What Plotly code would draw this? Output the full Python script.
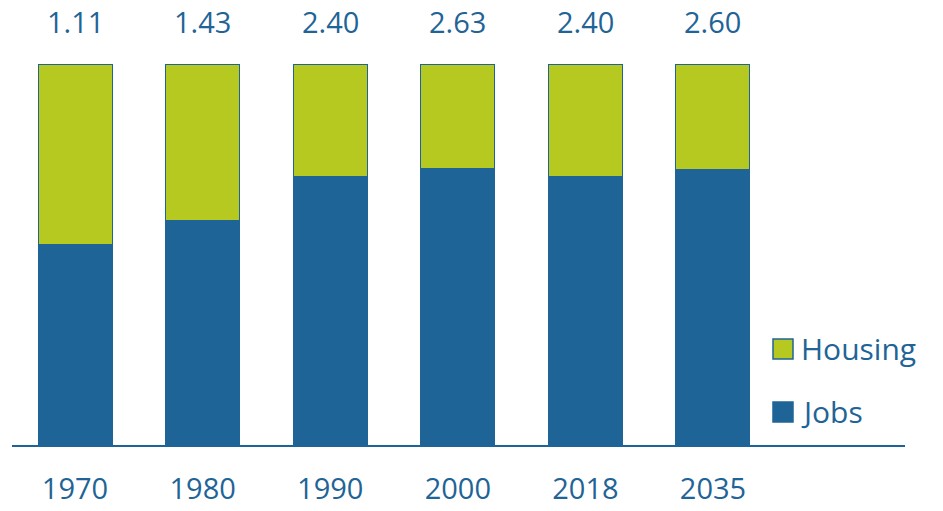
import plotly.graph_objects as go

categories = ["1970", "1980", "1990", "2000", "2018", "2035"]
ratio_labels = ["1.11", "1.43", "2.40", "2.63", "2.40", "2.60"]
jobs_share = [52.6, 58.8, 70.6, 72.5, 70.6, 72.2]
housing_share = [47.4, 41.2, 29.4, 27.5, 29.4, 27.8]

BLUE = "#1f6496"
GREEN = "#b5c921"
FONT = "Open Sans"

W, H = 943, 511
PX0, PX1, PY0, PY1 = 12, 905, 64, 445


def px(x):
    return (x - PX0) / (PX1 - PX0)


def py(y):
    return (PY1 - y) / (PY1 - PY0)


fig = go.Figure()
fig.add_trace(go.Bar(x=categories, y=jobs_share, name="Jobs", width=0.58,
                     marker=dict(color=BLUE, line=dict(color=BLUE, width=1))))
fig.add_trace(go.Bar(x=categories, y=housing_share, name="Housing", width=0.58,
                     marker=dict(color=GREEN, line=dict(color=BLUE, width=1))))

for i, t in enumerate(ratio_labels):
    fig.add_annotation(x=i, y=1, xref="x", yref="paper", text=t, showarrow=False,
                       yanchor="middle", yshift=43, borderpad=0,
                       font=dict(size=29, color=BLUE, family=FONT))

# legend drawn manually
legend_items = [("Housing", GREEN, 349), ("Jobs", BLUE, 412)]
for name, col, yc in legend_items:
    fig.add_shape(type="rect", xref="paper", yref="paper",
                  x0=px(773), x1=px(793),
                  y0=py(yc + 10), y1=py(yc - 10),
                  fillcolor=col, line=dict(color=BLUE, width=1.5))
    fig.add_annotation(x=px(799), y=py(yc - 1), xref="paper", yref="paper",
                       text=name, showarrow=False, xanchor="left", yanchor="middle",
                       font=dict(size=30, color=BLUE, family=FONT))

fig.update_layout(
    barmode="stack",
    width=W, height=H,
    margin=dict(l=PX0, r=W - PX1, t=PY0, b=H - PY1, autoexpand=False),
    paper_bgcolor="white", plot_bgcolor="white",
    showlegend=False,
    hovermode=False,
    font=dict(family=FONT, color=BLUE, size=29),
)
fig.update_xaxes(range=[-0.494, 6.505], showline=True, linecolor=BLUE, linewidth=2,
                 showgrid=False, ticks="", tickfont=dict(size=29, color=BLUE, family=FONT),
                 ticklabelstandoff=17, zeroline=False, automargin=False)
fig.update_yaxes(range=[0, 100], visible=False, showgrid=False, zeroline=False, automargin=False)

fig.write_html("out.html", config={"displayModeBar": False},
               post_script="document.body.style.margin='0';document.body.style.overflow='hidden';")
